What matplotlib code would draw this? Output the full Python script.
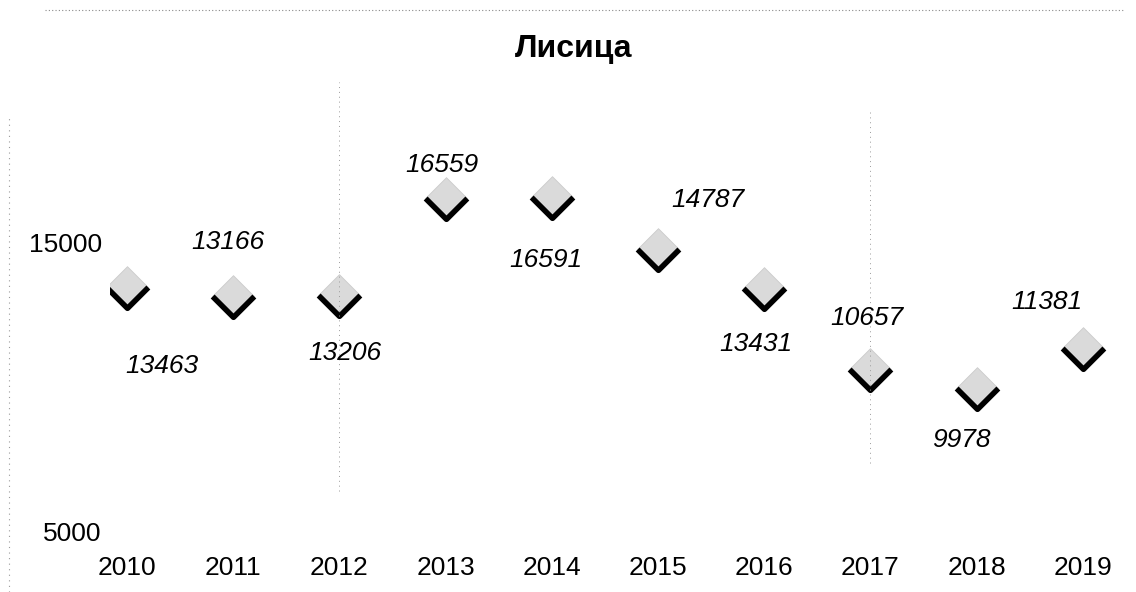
import numpy as np
import matplotlib
matplotlib.use('Agg')
import matplotlib.pyplot as plt
from matplotlib.path import Path

plt.rcParams['font.family'] = ['Liberation Sans', 'DejaVu Sans']

# data
years = [2010, 2011, 2012, 2013, 2014, 2015, 2016, 2017, 2018, 2019]
values = [13463, 13166, 13206, 16559, 16591, 14787, 13431, 10657, 9978, 11381]
title = 'Лисица'
ytick_vals = [5000, 15000]

# label offsets from the marker centre, pixels (dx right, dy up)
label_offsets = [(35, -79), (-5, 54), (5, -58), (-4, 33), (-6, -63),
                 (50, 49), (-8, -56), (-4, 51), (-15, -52), (-36, 46)]

fig = plt.figure(figsize=(11.36, 5.92), dpi=100)
ax = fig.add_axes([110 / 1136, 47 / 592, 1026 / 1136, 545 / 592])

diamond = Path([(0, 1), (1, 0), (0, -1), (-1, 0), (0, 1)],
               [Path.MOVETO, Path.LINETO, Path.LINETO, Path.LINETO, Path.CLOSEPOLY])
vee = Path([(-1, 0), (0, -1), (1, 0)])

ax.plot(years, values, linestyle='none', marker=diamond, markersize=30,
        markerfacecolor='#dadada', markeredgecolor='#cccccc', markeredgewidth=0.6)
ax.plot(years, values, linestyle='none', marker=vee, markersize=30,
        markerfacecolor='none', markeredgecolor='black', markeredgewidth=4.0)

for x, v, (dx, dy) in zip(years, values, label_offsets):
    ax.annotate(str(v), (x, v), xytext=(dx, dy), textcoords='offset pixels',
                ha='center', va='center', fontsize=19, fontstyle='italic')

ax.set_xlim(2009.84, 2019.50)
ax.set_ylim(4550, 23408)
ax.set_xticks(years)
ax.set_xticklabels([str(y) for y in years])
ax.set_yticks(ytick_vals)
ax.tick_params(axis='both', length=0, labelsize=19)
ax.tick_params(axis='x', pad=8)
ax.tick_params(axis='y', pad=6)
for s in ax.spines.values():
    s.set_visible(False)

# faint scan remnants of the old frame / grid
ax.axvline(2012, ymin=0.1, ymax=0.85, color='#9a9a9a', linestyle=(0, (1, 4)), linewidth=0.7)
ax.axvline(2017, ymin=0.15, ymax=0.8, color='#9a9a9a', linestyle=(0, (1, 4)), linewidth=0.7)
fig.add_artist(plt.Line2D([0.04, 0.99], [1 - 10 / 592] * 2, color='#8a8a8a',
                          linestyle=(0, (1, 2)), linewidth=0.8))
fig.add_artist(plt.Line2D([9 / 1136] * 2, [0.0, 0.8], color='#9a9a9a',
                          linestyle=(0, (1, 4)), linewidth=0.8))

fig.text(574 / 1136, 1 - 57 / 592, title, ha='center', va='baseline',
         fontsize=23, fontweight='bold')

fig.savefig('out.png', dpi=100)
